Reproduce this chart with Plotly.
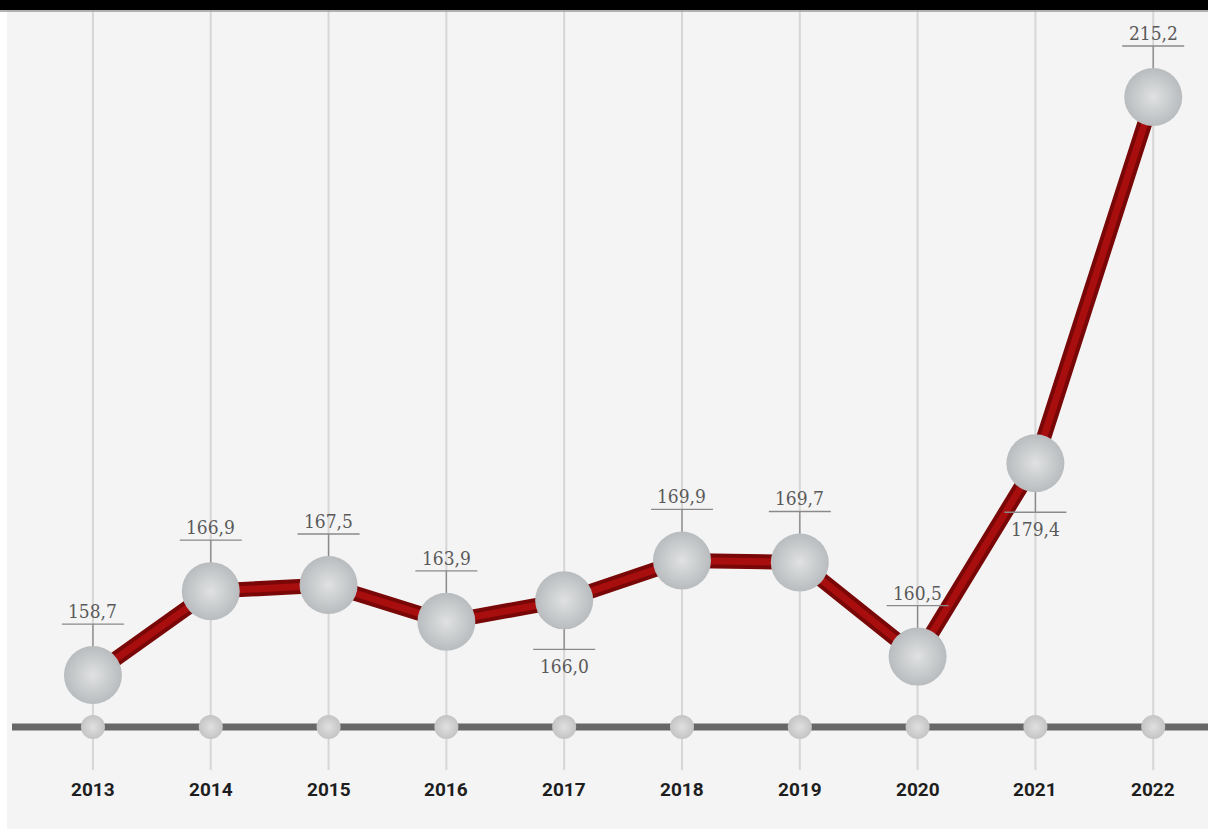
import plotly.graph_objects as go

years = [2013, 2014, 2015, 2016, 2017, 2018, 2019, 2020, 2021, 2022]
values = [158.7, 166.9, 167.5, 163.9, 166.0, 169.9, 169.7, 160.5, 179.4, 215.2]
labels = ["158,7", "166,9", "167,5", "163,9", "166,0", "169,9", "169,7", "160,5", "179,4", "215,2"]
label_pos = ["above", "above", "above", "above", "below", "above", "above", "above", "below", "above"]

BASE = 153.62
W, H = 1208, 829

fig = go.Figure()

# red tube line
fig.add_trace(go.Scatter(x=years, y=values, mode="lines",
                         line=dict(color="#7a0707", width=15), hoverinfo="skip", showlegend=False))
fig.add_trace(go.Scatter(x=years, y=values, mode="lines",
                         line=dict(color="#a80e0e", width=7), hoverinfo="skip", showlegend=False))
# spheres
fig.add_trace(go.Scatter(x=years, y=values, mode="markers",
                         marker=dict(size=58, color="#b9bcbe",
                                     gradient=dict(type="radial", color="#dfe1e2"),
                                     line=dict(width=0)),
                         hoverinfo="skip", showlegend=False))
# baseline small circles
fig.add_trace(go.Scatter(x=years, y=[BASE] * len(years), mode="markers",
                         marker=dict(size=24, color="#c4c4c4",
                                     gradient=dict(type="radial", color="#e0e0e0"),
                                     line=dict(width=0)),
                         hoverinfo="skip", showlegend=False))

shapes = []
# white left strip
shapes.append(dict(type="rect", xref="paper", yref="paper", x0=0, x1=7 / W, y0=0, y1=1,
                   fillcolor="white", line=dict(width=0), layer="below"))
# vertical gridlines
for yr in years:
    shapes.append(dict(type="line", xref="x", yref="paper", x0=yr, x1=yr,
                       y0=(H - 770) / H, y1=1, line=dict(color="#d6d6d6", width=2), layer="below"))
# baseline
shapes.append(dict(type="line", xref="paper", yref="y", x0=12 / W, x1=1, y0=BASE, y1=BASE,
                   line=dict(color="#676767", width=7), layer="below"))
# label ticks and underlines
annotations = []
for yr, v, lab, pos in zip(years, values, labels, label_pos):
    up = pos == "above"
    uy = 51 if up else -49
    shapes.append(dict(type="line", xref="x", yref="y", xsizemode="pixel", ysizemode="pixel",
                       xanchor=yr, yanchor=v, x0=0, x1=0, y0=0, y1=uy,
                       line=dict(color="#8a8a8a", width=1.3), layer="below"))
    shapes.append(dict(type="line", xref="x", yref="y", xsizemode="pixel", ysizemode="pixel",
                       xanchor=yr, yanchor=v, x0=-31, x1=31, y0=uy, y1=uy,
                       line=dict(color="#8a8a8a", width=1.3), layer="above"))
    annotations.append(dict(x=yr, y=v, xref="x", yref="y", text=lab, showarrow=False,
                            yshift=64 if up else -66, yanchor="middle",
                            font=dict(family="DejaVu Serif Condensed, DejaVu Serif, serif",
                                      size=19, color="#5a5a5a")))
    annotations.append(dict(x=yr, y=(H - 789) / H, xref="x", yref="paper", text="<b>%d</b>" % yr,
                            showarrow=False, yanchor="middle",
                            font=dict(family="Liberation Sans Narrow, Roboto, sans-serif",
                                      size=19, color="#1e1e1e")))
# black top bar
shapes.append(dict(type="rect", xref="paper", yref="paper", x0=0, x1=1, y0=1 - 10 / H, y1=1,
                   fillcolor="black", line=dict(width=0), layer="above"))
shapes.append(dict(type="line", xref="paper", yref="paper", x0=0, x1=1,
                   y0=1 - 11 / H, y1=1 - 11 / H, line=dict(color="#9a9a9a", width=1.5), layer="above"))

fig.update_layout(
    width=W, height=H, margin=dict(l=0, r=0, t=0, b=0),
    paper_bgcolor="white", plot_bgcolor="#f4f4f4",
    xaxis=dict(range=[2012.211, 2022.465], showgrid=False, zeroline=False, showticklabels=False,
               fixedrange=True),
    yaxis=dict(range=[143.65, 224.68], showgrid=False, zeroline=False, showticklabels=False,
               fixedrange=True),
    shapes=shapes, annotations=annotations, showlegend=False,
)

fig.write_html("out.html", config={"displayModeBar": False})
